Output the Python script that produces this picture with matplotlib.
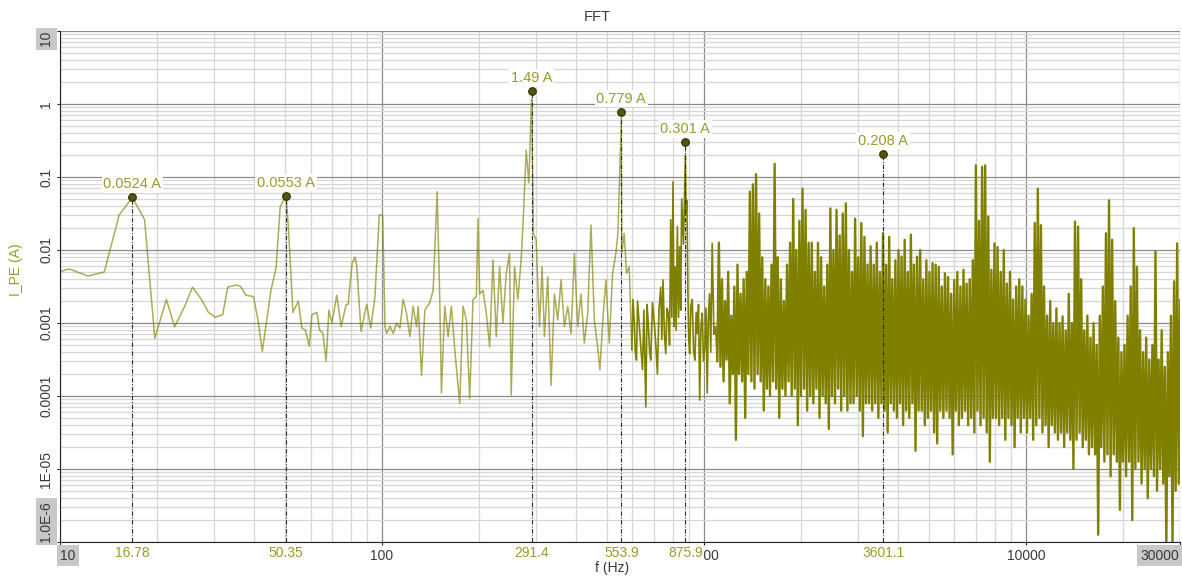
import matplotlib.pyplot as plt
import matplotlib.transforms as mtransforms
from matplotlib.ticker import LogLocator, NullFormatter
import numpy as np

plt.rcParams['font.family'] = ['Liberation Sans', 'DejaVu Sans']
plt.rcParams['path.simplify'] = False  # keep every up/down stroke of the dense band

# spectrum below ~1.1 kHz, read point by point (Hz, A)
freq_low = [9.16, 10.68, 12.21, 13.73, 15.26, 16.78, 18.31, 19.7, 21.4, 22.7,
            24.4, 25.8, 27.5, 28.9, 30.4, 32.0, 33.2, 35.1, 36.3, 37.8,
            39.9, 41.2, 42.5, 44.0, 45.2, 46.9, 48.3, 50.35, 51.2, 52.9,
            55.0, 56.4, 57.8, 59.5, 60.6, 62.8, 64.0, 65.5, 67.1, 68.4,
            69.9, 72.4, 74.7, 77.4, 78.5, 80.8, 82.5, 83.5, 86.1, 89.7,
            92.3, 95.1, 98.1, 100.5, 102.2, 103.4, 105.9, 108.4, 111.0, 113.7,
            116.4, 119.2, 122.1, 125.0, 128.0, 129.6, 132.7, 135.9, 140.8, 144.2,
            148.4, 151.2, 153.0, 156.7, 160.5, 164.3, 168.3, 174.4, 178.6, 182.9,
            187.3, 191.8, 196.4, 198.7, 201.1, 205.9, 210.9, 216.0, 221.2, 226.5,
            231.9, 237.5, 243.2, 249.0, 252.0, 258.1, 264.3, 270.6, 275.2, 280.5,
            285.9, 291.4, 295.6, 301.2, 308.4, 314.3, 319.6, 327.3, 335.2, 343.3,
            351.6, 360.0, 368.7, 377.6, 386.6, 396.0, 405.5, 415.2, 425.2, 435.5,
            445.9, 456.6, 467.6, 475.3, 486.8, 496.1, 508.1, 520.3, 532.8, 540.5,
            553.9, 556.1, 565.4, 574.9, 586.0, 597.2, 602, 607.3, 612, 617.4,
            622, 629.3, 636, 644.4, 651, 659.9, 666, 672.5, 678, 683.8,
            692, 700.2, 709, 717.1, 725, 734.3, 740, 746.6, 754, 761.0,
            768, 775.6, 782, 788.6, 795, 801.8, 807, 813.4, 820, 827.0,
            834, 840.9, 847, 852.9, 864, 875.9, 880, 885, 892, 897,
            903, 911, 920, 929, 938, 946, 954, 962, 970, 979,
            988, 997, 1007, 1015, 1024, 1032, 1041, 1050, 1061, 1074,
            1087, 1100]
amp_low = [0.0045, 0.0055, 0.0044, 0.0050, 0.030, 0.0524, 0.026, 0.00062, 0.0021, 0.00089,
           0.0017, 0.0031, 0.0021, 0.0014, 0.0012, 0.0013, 0.0031, 0.0033, 0.0032, 0.0024,
           0.0023, 0.0011, 0.00041, 0.0012, 0.0028, 0.0057, 0.039, 0.0553, 0.021, 0.0014,
           0.0020, 0.00085, 0.0008, 0.00048, 0.0013, 0.0014, 0.0008, 0.00073, 0.0003, 0.0015,
           0.0010, 0.0024, 0.00089, 0.0018, 0.0018, 0.0066, 0.008, 0.006, 0.00077, 0.0018,
           0.00085, 0.0023, 0.030, 0.030, 0.00088, 0.00072, 0.0009, 0.00072, 0.0010, 0.00085,
           0.0021, 0.00136, 0.00065, 0.0017, 0.00089, 0.0017, 0.00019, 0.0015, 0.0019, 0.0028,
           0.063, 0.0021, 0.00011, 0.0017, 0.00065, 0.0017, 0.00043, 0.000079, 0.0017, 0.0011,
           0.000093, 0.0021, 0.0023, 0.027, 0.0025, 0.0028, 0.00136, 0.00047, 0.0073, 0.00065,
           0.0059, 0.00099, 0.0048, 0.009, 0.000103, 0.0059, 0.0021, 0.0073, 0.032, 0.234,
           0.083, 1.2, 0.0169, 0.0137, 0.00089, 0.0059, 0.00065, 0.0043, 0.00014, 0.0025,
           0.0011, 0.0039, 0.00089, 0.0017, 0.00072, 0.009, 0.00089, 0.0025, 0.00053, 0.00136,
           0.022, 0.0011, 0.00047, 0.00023, 0.00136, 0.0039, 0.00053, 0.0048, 0.009, 0.0169,
           0.62, 0.009, 0.0169, 0.0048, 0.0059, 0.00043, 0.0021, 0.0011, 0.0004, 0.00031,
           0.002, 0.00099, 0.0005, 0.00023, 0.0015, 0.000071, 0.0018, 0.00089, 0.0004, 0.00031,
           0.0019, 0.0011, 0.0005, 0.0002, 0.0015, 0.0031, 0.0006, 0.0039, 0.0007, 0.00038,
           0.0016, 0.00136, 0.0005, 0.026, 0.0012, 0.086, 0.0009, 0.0059, 0.0008, 0.021,
           0.0012, 0.0111, 0.0015, 0.05, 0.012, 0.2, 0.03, 0.048, 0.0025, 0.0006,
           0.00038, 0.0017, 0.0021, 0.0004, 0.00031, 0.0014, 0.00072, 0.0018, 0.000088, 0.0009,
           0.00136, 0.0003, 0.00047, 0.0016, 0.00011, 0.0012, 0.0025, 0.0004, 0.0123, 0.0007,
           0.00089, 0.0003]

# dense band 1.1 kHz - 30 kHz: successive local maxima / minima, log10(A)
dense_hi = [-1.9, -2.4, -2.7, -2.3, -2.9, -2.5, -2.2, -2.6, -2.4, -2.3,
            -1.2, -1.1, -0.96, -1.5, -2.1, -2.4, -2.5, -2.2, -0.82, -2.1,
            -2.4, -2.7, -2.2, -1.9, -1.3, -2.0, -1.6, -1.16, -1.45, -1.9,
            -1.9, -2.3, -1.9, -2.1, -2.5, -2.2, -1.43, -2.0, -1.45, -1.8,
            -1.5, -1.36, -2.0, -2.3, -1.57, -2.1, -1.63, -1.82, -2.2, -1.95,
            -2.2, -1.9, -2.3, -1.77, -2.2, -1.82, -2.4, -2.14, -2.0, -2.09,
            -1.86, -2.3, -1.79, -2.2, -2.09, -2.0, -2.4, -2.14, -2.3, -2.18,
            -2.2, -2.23, -2.5, -2.32, -2.37, -2.6, -2.41, -2.3, -2.5, -2.27,
            -2.46, -2.4, -2.14, -0.84, -1.6, -0.86, -0.84, -1.54, -2.27, -1.91,
            -1.96, -2.3, -2.0, -2.46, -2.3, -2.68, -2.5, -2.4, -2.5, -2.68,
            -2.9, -2.6, -1.63, -1.16, -1.66, -2.5, -2.9, -2.7, -3.0, -2.8,
            -3.0, -2.91, -3.1, -2.6, -3.0, -1.61, -1.68, -2.4, -3.1, -2.9,
            -3.2, -3.0, -3.3, -2.9, -2.5, -1.77, -1.32, -1.86, -2.7, -3.2,
            -3.4, -3.3, -2.9, -2.5, -1.70, -2.23, -3.1, -3.4, -3.2, -3.5,
            -3.3, -2.02, -3.5, -3.1, -3.6, -3.4, -2.9, -2.43, -1.91, -2.68]
dense_lo = [-3.6, -3.8, -3.5, -4.1, -3.7, -4.6, -3.7, -3.8, -4.3, -3.7,
            -3.8, -3.9, -3.7, -3.8, -4.2, -3.9, -4.0, -3.8, -3.9, -4.3,
            -3.9, -4.0, -3.8, -4.0, -3.9, -4.4, -4.0, -3.9, -4.2, -4.0,
            -4.1, -3.9, -4.3, -4.0, -4.1, -4.45, -4.0, -4.1, -3.9, -4.2,
            -4.0, -4.2, -4.1, -4.1, -4.0, -4.2, -4.55, -4.1, -4.1, -4.2,
            -4.1, -4.3, -4.1, -4.2, -4.5, -4.1, -4.2, -4.3, -4.1, -4.4,
            -4.2, -4.3, -4.1, -4.75, -4.2, -4.2, -4.4, -4.3, -4.2, -4.5,
            -4.65, -4.2, -4.3, -4.2, -4.3, -4.8, -4.2, -4.4, -4.3, -4.2,
            -4.4, -4.3, -4.5, -4.2, -4.4, -4.3, -4.5, -4.9, -4.3, -4.3,
            -4.4, -4.3, -4.6, -4.3, -4.4, -4.7, -4.3, -4.5, -4.3, -4.5,
            -4.3, -4.6, -4.4, -4.3, -4.5, -4.4, -4.7, -4.4, -4.5, -4.6,
            -4.5, -4.7, -4.5, -4.6, -5.0, -4.6, -4.5, -4.7, -4.6, -4.8,
            -4.7, -4.8, -5.9, -4.7, -4.9, -4.8, -5.1, -4.8, -4.9, -5.56,
            -4.9, -5.1, -4.9, -5.7, -5.0, -4.9, -5.2, -5.0, -5.4, -5.0,
            -5.1, -5.3, -5.0, -5.2, -6.1, -5.1, -6.1, -5.3, -5.2, -5.5]

# cursor markers
peak_freq = [16.78, 50.35, 291.4, 553.9, 875.9, 3601.1]
peak_amp = [0.0524, 0.0553, 1.49, 0.779, 0.301, 0.208]
peak_text = ['0.0524 A', '0.0553 A', '1.49 A', '0.779 A', '0.301 A', '0.208 A']
peak_xlabel = ['16.78', '50.35', '291.4', '553.9', '875.9', '3601.1']

x_ticks = [10, 100, 1000, 10000, 30000]
x_ticklabels = ['10', '100', '1000', '10000', '30000']
y_ticks = [1e-6, 1e-5, 1e-4, 1e-3, 1e-2, 1e-1, 1, 10]
y_ticklabels = ['1.0E-6', '1E-05', '0.0001', '0.001', '0.01', '0.1', '1', '10']

olive = '#808000'
olive_text = '#9a9a2e'
dark = '#3a3a3a'

# dense part sits on the fft bin grid, spread evenly in log f
n = len(dense_hi)
dense_f = np.geomspace(1113, 30500, 2 * n)
dense_a = np.empty(2 * n)
dense_a[0::2] = 10.0 ** np.array(dense_hi)
dense_a[1::2] = 10.0 ** np.array(dense_lo)

f_all = np.concatenate([freq_low, dense_f])
a_all = np.concatenate([amp_low, dense_a])

fig = plt.figure(figsize=(11.82, 5.78), dpi=100)
ax = fig.add_axes([60 / 1182, 36 / 578, 1119.5 / 1182, 511 / 578])

light = f_all <= 600
mid = (f_all >= 597.2) & (f_all <= 1113)
dense = f_all >= 1100
ax.plot(f_all[light], a_all[light], color=olive, lw=1.1, alpha=0.65, zorder=2)
ax.plot(f_all[mid], a_all[mid], color=olive, lw=1.2, zorder=2)
ax.plot(f_all[dense], a_all[dense], color=olive, lw=1.7, zorder=2)

ax.set_xscale('log')
ax.set_yscale('log')
ax.set_xlim(10, 30000)
ax.set_ylim(1e-6, 10)

ax.xaxis.set_minor_locator(LogLocator(base=10, subs=np.arange(2, 10), numticks=50))
ax.yaxis.set_minor_locator(LogLocator(base=10, subs=np.arange(2, 10), numticks=50))
ax.xaxis.set_minor_formatter(NullFormatter())
ax.yaxis.set_minor_formatter(NullFormatter())
ax.grid(which='major', color='#8a8a8a', lw=0.9)
ax.grid(which='minor', color='#d6d6d6', lw=0.9)
ax.set_axisbelow(True)

ax.set_xticks(x_ticks, x_ticklabels)
ax.set_yticks(y_ticks, y_ticklabels, rotation=90)
ax.tick_params(which='major', length=2, width=0.8, pad=3, labelsize=10, labelcolor=dark, color='#222222')
ax.tick_params(which='minor', length=0)

for sp in ['top', 'right']:
    ax.spines[sp].set_visible(False)
for sp in ['left', 'bottom']:
    ax.spines[sp].set_color('#222222')

gray_box = dict(boxstyle='square,pad=0.25', fc='#c8c8c8', ec='none')
ylabs = ax.get_yticklabels()
ylabs[0].set_va('bottom')
ylabs[0].set_bbox(gray_box)
ylabs[-1].set_va('top')
ylabs[-1].set_bbox(gray_box)
for lab in ylabs[1:-1]:
    lab.set_va('center')
xlabs = ax.get_xticklabels()
xlabs[0].set_ha('left')
xlabs[0].set_bbox(gray_box)
xlabs[-1].set_ha('right')
xlabs[-1].set_bbox(gray_box)

white_box = dict(boxstyle='square,pad=0.12', fc='white', ec='none')
trans = mtransforms.blended_transform_factory(ax.transData, ax.transAxes)
for f, a, t, xl in zip(peak_freq, peak_amp, peak_text, peak_xlabel):
    ax.vlines(f, 1e-6, a, colors='#2b2b2b', linestyles=(0, (4, 1.5, 1, 1.5)), lw=0.8, zorder=4)
    ax.plot(f, a, 'o', ms=5.5, mfc='#55550a', mec='#2e2e00', mew=0.8, zorder=5)
    ax.annotate(t, (f, a), xytext=(0, 4.5), textcoords='offset points', ha='center', va='bottom',
                color=olive_text, fontsize=10.5, bbox=white_box, zorder=6)
    ax.text(f, -0.022, xl, transform=trans, ha='center', va='center', color=olive_text,
            fontsize=10, bbox=white_box, zorder=6)

ax.set_xlabel('f (Hz)', fontsize=10, color=dark)
ax.xaxis.set_label_coords(0.493, -0.038)
ax.set_ylabel('I_PE (A)', fontsize=10, color=olive_text)
ax.yaxis.set_label_coords(-0.033, 0.532)

fig.text(597 / 1182, 1 - 17 / 578, 'FFT', ha='center', va='center', fontsize=10.5, color=dark)

fig.savefig('out.png', dpi=100)
